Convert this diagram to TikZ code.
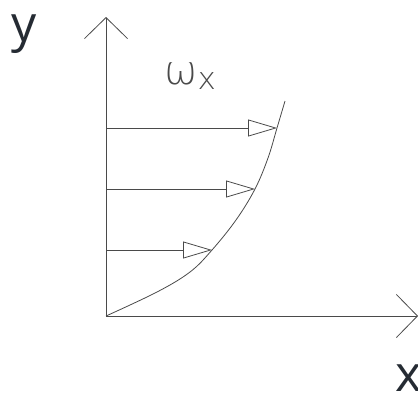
\documentclass[tikz,border=0pt]{standalone}
\usepackage{fontspec}
\setmainfont{Open Sans}
\newfontfamily\thinfont{DejaVu Sans ExtraLight}
\usetikzlibrary{arrows.meta}
\definecolor{linegray}{HTML}{4A4A4A}
\definecolor{labeldark}{HTML}{252B33}
\begin{document}
\begin{tikzpicture}[x=1pt, y=-1pt,
  axis/.style={linegray, line width=0.8pt, -{Straight Barb[length=21pt, width=43pt]}},
  vel/.style={linegray, line width=0.8pt, -{Triangle[open, length=29pt, width=17pt]}},
  lbl/.style={labeldark, inner sep=0pt, font=\fontsize{50}{60}\selectfont}]
  \useasboundingbox (0,0) rectangle (418,392);
  \coordinate (O) at (106,316);
  \coordinate (ytop) at (106,17);
  \coordinate (xend) at (418,316);
  \draw[axis] (O) -- (ytop);
  \draw[axis] (O) -- (xend);
  \draw[linegray, line width=0.8pt] plot[smooth, tension=0.6] coordinates {(106,316) (157,292) (190,272) (212,250) (236,220) (255,189) (268,158) (277,128) (285,101)};
  \coordinate (s1) at (106,250); \coordinate (t1) at (212,250);
  \coordinate (s2) at (106,189); \coordinate (t2) at (255,189);
  \coordinate (s3) at (106,128); \coordinate (t3) at (277,128);
  \draw[vel] (s1) -- (t1);
  \draw[vel] (s2) -- (t2);
  \draw[vel] (s3) -- (t3);
  \node[lbl, anchor=base west] (ylabel) at (11,41) {y};
  \node[lbl, anchor=base west] (xlabel) at (395,391) {x};
  \node[linegray, inner sep=0pt, anchor=base west, font=\thinfont\fontsize{40}{48}\selectfont] (omega) at (164,84) {ω\raisebox{-5pt}{\fontsize{31}{36}\selectfont x}};
\end{tikzpicture}
\end{document}
